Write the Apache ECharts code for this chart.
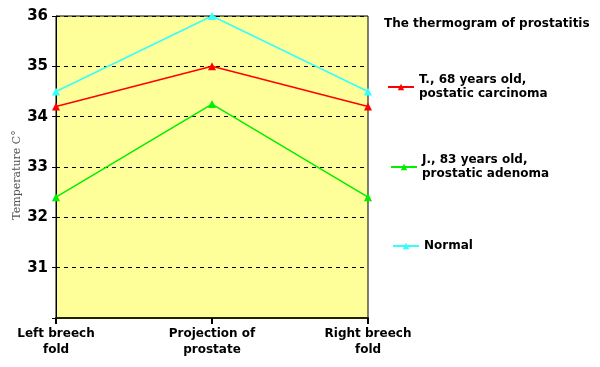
<!DOCTYPE html>
<html><head><meta charset="utf-8">
<script src="https://cdn.jsdelivr.net/npm/echarts@6/dist/echarts.min.js"></script>
<style>html,body{margin:0;padding:0;background:#fff}#c{width:600px;height:367px}</style>
</head><body><div id="c"></div>
<script>
const categories = ['Left breech\nfold', 'Projection of\nprostate', 'Right breech\nfold'];
const seriesNames = ['T., 68 years old,\npostatic carcinoma', 'J., 83 years old,\nprostatic adenoma', 'Normal'];
const carcinoma = [34.2, 35.0, 34.2];
const adenoma = [32.4, 34.25, 32.4];
const normal = [34.5, 36.0, 34.5];
const yTicks = [30, 31, 32, 33, 34, 35, 36];
const titleText = 'The thermogram of prostatitis';
const yName = 'Temperature C°';

const font = 'DejaVu Sans';
const chart = echarts.init(document.getElementById('c'), null, {renderer: 'canvas'});
const legendBase = {
  orient: 'vertical', itemWidth: 26, itemHeight: 8, itemGap: 8,
  textStyle: {fontFamily: font, fontWeight: 'bold', fontSize: 12, color: '#000', lineHeight: 14},
  selectedMode: false
};
chart.setOption({
  animation: false,
  title: {text: titleText, left: 379, top: 13,
    textStyle: {fontFamily: font, fontWeight: 'bold', fontSize: 12, color: '#000'}},
  legend: [
    Object.assign({}, legendBase, {data: [seriesNames[0]], left: 382, top: 68}),
    Object.assign({}, legendBase, {data: [seriesNames[1]], left: 385, top: 148}),
    Object.assign({}, legendBase, {data: [seriesNames[2]], left: 387, top: 234})
  ],
  grid: {left: 56, top: 16, right: 232, bottom: 49, show: true, outerBoundsMode: 'none', containLabel: false,
    backgroundColor: '#FFFF99', borderColor: '#000', borderWidth: 1},
  xAxis: {type: 'category', data: categories, boundaryGap: false,
    axisLine: {lineStyle: {color: '#222200', width: 2}},
    axisTick: {show: true, length: 6, lineStyle: {color: '#000', width: 2}},
    axisLabel: {fontFamily: font, fontWeight: 'bold', fontSize: 12, color: '#000', margin: 8, lineHeight: 16},
    splitLine: {show: false}},
  yAxis: {type: 'value', min: yTicks[0], max: yTicks[yTicks.length - 1], interval: 1,
    name: yName, nameLocation: 'middle', nameRotate: 90, nameGap: 33, nameMoveOverlap: false,
    nameTextStyle: {fontFamily: 'DejaVu Serif', fontSize: 11, color: '#555', padding: [0, 16, 0, 0]},
    axisLine: {show: true, lineStyle: {color: '#000'}},
    axisTick: {show: true, length: 4, lineStyle: {color: '#000'}},
    axisLabel: {fontFamily: font, fontWeight: 'bold', fontSize: 15, color: '#000', margin: 8,
      formatter: v => v === yTicks[0] ? '' : String(v)},
    splitLine: {show: true, lineStyle: {color: '#000', type: [4, 4], width: 1}}},
  series: [
    {name: seriesNames[0], type: 'line', data: carcinoma, color: '#FF0000', symbol: 'triangle', symbolSize: 8,
      lineStyle: {width: 1.5}, z: 3},
    {name: seriesNames[1], type: 'line', data: adenoma, color: '#00EE00', symbol: 'triangle', symbolSize: 8,
      lineStyle: {width: 1.5}, z: 3},
    {name: seriesNames[2], type: 'line', data: normal, color: '#33FFFF', symbol: 'triangle', symbolSize: 8,
      lineStyle: {width: 1.5}, z: 3}
  ]
});
</script></body></html>
